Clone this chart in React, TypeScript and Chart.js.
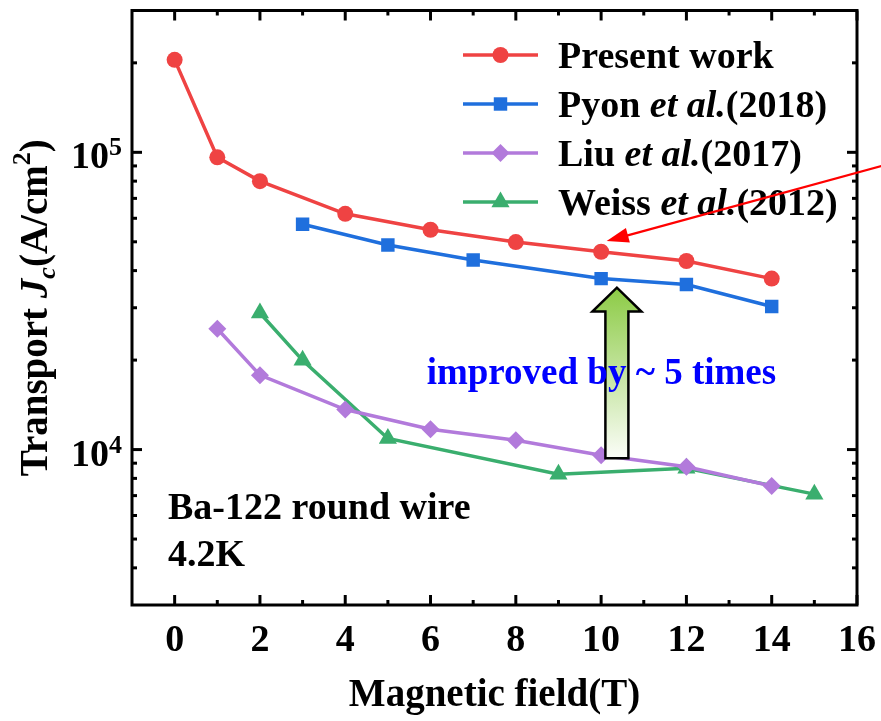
import React, { useEffect, useRef } from 'react';
import { Chart, registerables } from 'chart.js';

Chart.register(...registerables);

// ---- data ----
const presentX = [0, 1, 2, 4, 6, 8, 10, 12, 14];
const presentY = [204700, 96200, 80000, 62100, 54900, 49900, 46300, 43100, 37600];
const pyonX = [3, 5, 7, 10, 12, 14];
const pyonY = [57300, 48800, 43400, 37600, 35900, 30300];
const liuX = [1, 2, 4, 6, 8, 10, 12, 14];
const liuY = [25500, 17800, 13640, 11700, 10750, 9570, 8750, 7540];
const weissX = [2, 3, 5, 9, 12, 15];
const weissY = [28800, 19960, 10900, 8260, 8650, 7080];

const xMajorTicks = [0, 2, 4, 6, 8, 10, 12, 14, 16];
const xMinorTicks = [1, 3, 5, 7, 9, 11, 13, 15];
const yMajorTicks = [10000, 100000];
const yMajorExp = ['4', '5'];
const yMinorTicks = [4000, 5000, 6000, 7000, 8000, 9000, 20000, 30000, 40000, 50000, 60000, 70000, 80000, 90000, 200000];

const seriesNames = [
  ['Present work', '', ''],
  ['Pyon ', 'et al.', '(2018)'],
  ['Liu ', 'et al.', '(2017)'],
  ['Weiss ', 'et al.', '(2012)'],
];
const colors = ['#EF4343', '#1F6FDD', '#B27ADB', '#3AAE6E'];
const pointStyles = ['circle', 'rect', 'rectRot', 'triangle'];
const pointRadii = [8, 9.5, 9, 10.5];

const SERIF = '"Liberation Serif", "Times New Roman", serif';

type Seg = { t: string; size: number; italic?: boolean; dy?: number; color?: string };

function drawSegs(ctx: CanvasRenderingContext2D, segs: Seg[], x: number, y: number, align: 'left' | 'center' | 'right' = 'left') {
  const widths = segs.map((s) => {
    ctx.font = `${s.italic ? 'italic ' : ''}bold ${s.size}px ${SERIF}`;
    return ctx.measureText(s.t).width;
  });
  const total = widths.reduce((a, b) => a + b, 0);
  let cx = align === 'left' ? x : align === 'center' ? x - total / 2 : x - total;
  ctx.textBaseline = 'alphabetic';
  ctx.textAlign = 'left';
  segs.forEach((s, i) => {
    ctx.font = `${s.italic ? 'italic ' : ''}bold ${s.size}px ${SERIF}`;
    ctx.fillStyle = s.color || '#000';
    ctx.fillText(s.t, cx, y + (s.dy || 0));
    cx += widths[i];
  });
}

function drawMarker(ctx: CanvasRenderingContext2D, style: string, r: number, x: number, y: number) {
  ctx.beginPath();
  if (style === 'circle') {
    ctx.arc(x, y, r, 0, Math.PI * 2);
  } else if (style === 'rect') {
    const s = Math.SQRT1_2 * r;
    ctx.rect(x - s, y - s, 2 * s, 2 * s);
  } else if (style === 'rectRot') {
    ctx.moveTo(x - r, y);
    ctx.lineTo(x, y - r);
    ctx.lineTo(x + r, y);
    ctx.lineTo(x, y + r);
    ctx.closePath();
  } else if (style === 'triangle') {
    const h = r * Math.sin(Math.PI / 6);
    const w = r * Math.cos(Math.PI / 6);
    ctx.moveTo(x, y - r);
    ctx.lineTo(x + w, y + h);
    ctx.lineTo(x - w, y + h);
    ctx.closePath();
  }
  ctx.fill();
}

const decorPlugin = {
  id: 'decor',
  afterDraw(chart: any) {
    const ctx: CanvasRenderingContext2D = chart.ctx;
    const { left, right, top, bottom } = chart.chartArea;
    const xs = chart.scales.x;
    const ys = chart.scales.y;
    ctx.save();

    // frame
    ctx.strokeStyle = '#000';
    ctx.lineWidth = 3;
    ctx.strokeRect(left, top, right - left, bottom - top);

    const seg = (x1: number, y1: number, x2: number, y2: number) => {
      ctx.beginPath();
      ctx.moveTo(x1, y1);
      ctx.lineTo(x2, y2);
      ctx.stroke();
    };
    const MAJ = 10, MIN = 5;
    xMajorTicks.forEach((v) => {
      const p = xs.getPixelForValue(v);
      seg(p, bottom, p, bottom - MAJ);
      seg(p, top, p, top + MAJ);
    });
    xMinorTicks.forEach((v) => {
      const p = xs.getPixelForValue(v);
      seg(p, bottom, p, bottom - MIN);
      seg(p, top, p, top + MIN);
    });
    yMajorTicks.forEach((v) => {
      const p = ys.getPixelForValue(v);
      seg(left, p, left + MAJ, p);
      seg(right, p, right - MAJ, p);
    });
    yMinorTicks.forEach((v) => {
      const p = ys.getPixelForValue(v);
      seg(left, p, left + MIN, p);
      seg(right, p, right - MIN, p);
    });

    // x tick labels
    ctx.fillStyle = '#000';
    ctx.font = `bold 38px ${SERIF}`;
    ctx.textAlign = 'center';
    ctx.textBaseline = 'alphabetic';
    xMajorTicks.forEach((v) => {
      ctx.fillText(String(v), xs.getPixelForValue(v), bottom + 46);
    });

    // y tick labels
    yMajorTicks.forEach((v, i) => {
      const p = ys.getPixelForValue(v);
      drawSegs(ctx, [
        { t: '10', size: 38 },
        { t: yMajorExp[i], size: 26, dy: -13 },
      ], left - 10, p + 16, 'right');
    });

    // x title
    drawSegs(ctx, [{ t: 'Magnetic field(T)', size: 39 }], (left + right) / 2, bottom + 101, 'center');

    // y title
    ctx.save();
    ctx.translate(47, (top + bottom) / 2);
    ctx.rotate(-Math.PI / 2);
    drawSegs(ctx, [
      { t: 'Transport ', size: 39 },
      { t: 'J', size: 39, italic: true },
      { t: 'c', size: 26, italic: true, dy: 8 },
      { t: '(A/cm', size: 39 },
      { t: '2', size: 26, dy: -17 },
      { t: ')', size: 39 },
    ], 0, 0, 'center');
    ctx.restore();

    // green block arrow (behind the blue text)
    const ax = xs.getPixelForValue(10.37);
    const yBot = ys.getPixelForValue(9350);
    const yBase = ys.getPixelForValue(29130);
    const yApex = ys.getPixelForValue(35050);
    const sw = 11.5, hw = 24.5;
    const grad = ctx.createLinearGradient(0, yApex, 0, yBot);
    grad.addColorStop(0, '#8CCB45');
    grad.addColorStop(1, '#FBFDF8');
    ctx.beginPath();
    ctx.moveTo(ax - sw, yBot);
    ctx.lineTo(ax + sw, yBot);
    ctx.lineTo(ax + sw, yBase);
    ctx.lineTo(ax + hw, yBase);
    ctx.lineTo(ax, yApex);
    ctx.lineTo(ax - hw, yBase);
    ctx.lineTo(ax - sw, yBase);
    ctx.closePath();
    ctx.fillStyle = grad;
    ctx.fill();
    ctx.lineWidth = 2.5;
    ctx.strokeStyle = '#000';
    ctx.lineJoin = 'miter';
    ctx.stroke();

    // annotation texts
    drawSegs(ctx, [{ t: 'Ba-122 round wire', size: 38 }], left + 36, bottom - 86);
    drawSegs(ctx, [{ t: '4.2K', size: 38 }], left + 36, bottom - 39);
    drawSegs(ctx, [{ t: 'improved by ~ 5 times', size: 37, color: '#0000FF' }], xs.getPixelForValue(5.91), ys.getPixelForValue(16560));

    // legend
    const lgX1 = 463, lgX2 = 538, lgTextX = 558;
    const rows = [55, 104, 153, 202];
    rows.forEach((ry, i) => {
      ctx.strokeStyle = colors[i];
      ctx.lineWidth = 3.5;
      seg(lgX1, ry, lgX2, ry);
      ctx.fillStyle = colors[i];
      drawMarker(ctx, pointStyles[i], pointRadii[i], (lgX1 + lgX2) / 2, ry);
      const n = seriesNames[i];
      const segs: Seg[] = [{ t: n[0], size: 38 }];
      if (n[1]) segs.push({ t: n[1], size: 38, italic: true });
      if (n[2]) segs.push({ t: n[2], size: 38 });
      drawSegs(ctx, segs, lgTextX, ry + 13);
    });

    // red thin arrow
    const tx = xs.getPixelForValue(10.13), ty = ys.getPixelForValue(50270);
    const sx = xs.getPixelForValue(16.8), sy = ys.getPixelForValue(91850);
    const ang = Math.atan2(ty - sy, tx - sx);
    const hl = 22, hwid = 7.5;
    const bx = tx - hl * Math.cos(ang), by = ty - hl * Math.sin(ang);
    ctx.strokeStyle = '#FF0000';
    ctx.lineWidth = 2.2;
    seg(sx, sy, bx + 4 * Math.cos(ang), by + 4 * Math.sin(ang));
    ctx.fillStyle = '#FF0000';
    ctx.beginPath();
    ctx.moveTo(tx, ty);
    ctx.lineTo(bx + hwid * Math.sin(ang), by - hwid * Math.cos(ang));
    ctx.lineTo(bx - hwid * Math.sin(ang), by + hwid * Math.cos(ang));
    ctx.closePath();
    ctx.fill();

    ctx.restore();
  },
};

function makeDataset(label: string, xsArr: number[], ysArr: number[], i: number) {
  return {
    label,
    data: xsArr.map((x, k) => ({ x, y: ysArr[k] })),
    borderColor: colors[i],
    backgroundColor: colors[i],
    pointBackgroundColor: colors[i],
    pointBorderColor: colors[i],
    pointBorderWidth: 0,
    pointStyle: pointStyles[i],
    pointRadius: pointRadii[i],
    borderWidth: 3.5,
    tension: 0,
    fill: false,
  };
}

export default function App() {
  const ref = useRef<HTMLCanvasElement | null>(null);
  useEffect(() => {
    if (!ref.current) return;
    const chart = new Chart(ref.current, {
      type: 'line',
      data: {
        datasets: [
          makeDataset('Present work', presentX, presentY, 0),
          makeDataset('Pyon et al.(2018)', pyonX, pyonY, 1),
          makeDataset('Liu et al.(2017)', liuX, liuY, 2),
          makeDataset('Weiss et al.(2012)', weissX, weissY, 3),
        ],
      },
      options: {
        animation: false,
        responsive: false,
        devicePixelRatio: 1,
        layout: { padding: { left: 132, right: 24, top: 9, bottom: 116 } },
        plugins: { legend: { display: false }, tooltip: { enabled: false } },
        scales: {
          x: { type: 'linear', min: -1, max: 16, display: false },
          y: { type: 'logarithmic', min: 3000, max: 300000, display: false },
        },
      },
      plugins: [decorPlugin],
    });
    return () => chart.destroy();
  }, []);
  return (
    <div style={{ position: 'fixed', left: 0, top: 0, width: 881, height: 721, background: '#fff' }}>
      <canvas ref={ref} width={881} height={721} style={{ display: 'block' }} />
    </div>
  );
}
